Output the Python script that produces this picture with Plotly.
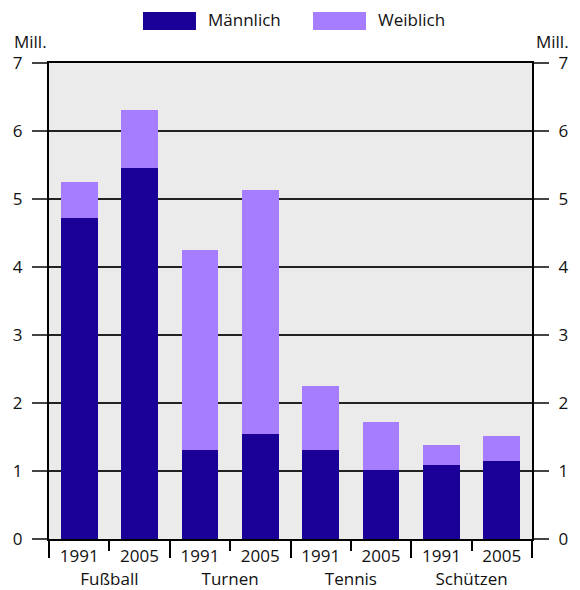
import plotly.graph_objects as go

sports = ["Fußball", "Turnen", "Tennis", "Schützen"]
years = ["1991", "2005"]
series_names = ["Männlich", "Weiblich"]
male = [4.72, 5.46, 1.31, 1.54, 1.31, 1.01, 1.09, 1.15]
female = [0.53, 0.85, 2.94, 3.59, 0.94, 0.71, 0.29, 0.36]
y_ticks = [0, 1, 2, 3, 4, 5, 6, 7]
unit_label = "Mill."

colors = ["#1b0097", "#a77dff"]
FONT = "Open Sans"
FS = 17

n = len(sports) * len(years)
xpos = list(range(n))
year_labels = [years[i % len(years)] for i in range(n)]
group_centers = [g * len(years) + (len(years) - 1) / 2 for g in range(len(sports))]
group_bounds = [g * len(years) - 0.5 for g in range(len(sports) + 1)]
inner_bounds = [g * len(years) + 0.5 for g in range(len(sports))]
xr = [-0.5, n - 0.5]

fig = go.Figure()
for name, vals, col in zip(series_names, [male, female], colors):
    fig.add_trace(go.Bar(x=xpos, y=vals, name=name, marker=dict(color=col, line=dict(width=0)),
                         width=0.61, showlegend=False, hoverinfo="skip"))
# empty helper traces so that the extra axes are drawn
for xa, ya in [("x3", "y"), ("x4", "y"), ("x", "y2")]:
    fig.add_trace(go.Scatter(x=[None], y=[None], xaxis=xa, yaxis=ya, showlegend=False,
                             hoverinfo="skip", mode="markers"))

fig.update_layout(
    width=580, height=590, autosize=False,
    margin=dict(l=49, r=48, t=63, b=51),
    barmode="stack",
    plot_bgcolor="#ebebeb", paper_bgcolor="white",
    font=dict(family=FONT, size=FS, color="#111"),
    xaxis=dict(range=xr, tickvals=xpos, ticktext=year_labels, ticks="", showgrid=False,
               zeroline=False, showline=True, mirror=True, linecolor="black", linewidth=2,
               ticklabelstandoff=1, fixedrange=True, automargin=False,
               minor=dict(tickvals=inner_bounds, ticks="outside", ticklen=10, tickwidth=1.5,
                          tickcolor="black", showgrid=False)),
    xaxis3=dict(overlaying="x", anchor="y", range=xr, tickvals=group_bounds, ticks="outside",
                ticklen=18, tickwidth=1.5, tickcolor="black", showticklabels=False,
                showgrid=False, zeroline=False, showline=False, fixedrange=True,
                automargin=False),
    xaxis4=dict(overlaying="x", anchor="y", range=xr, tickvals=group_centers, ticktext=sports,
                ticks="", showgrid=False, zeroline=False, showline=False,
                ticklabelstandoff=28, fixedrange=True, automargin=False),
    yaxis=dict(range=[0, 7], tickvals=y_ticks, ticks="outside", ticklen=15, tickwidth=2,
               tickcolor="#444", showgrid=True, gridcolor="#222", gridwidth=1.5,
               zeroline=False, showline=True, linecolor="black", linewidth=2,
               ticklabelstandoff=6, fixedrange=True, automargin=False),
    yaxis2=dict(overlaying="y", side="right", anchor="x", range=[0, 7], tickvals=y_ticks,
                ticks="outside", ticklen=15, tickwidth=2, tickcolor="#444", showgrid=False,
                zeroline=False, showline=True, linecolor="black", linewidth=2,
                ticklabelstandoff=6, fixedrange=True, automargin=False),
)

# unit labels
fig.add_annotation(text=unit_label, xref="paper", yref="paper", x=0, y=1, xanchor="right",
                   yanchor="bottom", yshift=8, showarrow=False, font=dict(size=FS))
fig.add_annotation(text=unit_label, xref="paper", yref="paper", x=1, y=1, xanchor="left",
                   yanchor="bottom", yshift=8, xshift=2, showarrow=False, font=dict(size=FS))

# legend (drawn)
leg_boxes = [(0.1946, 0.3043), (0.5466, 0.6563)]
for (x0, x1), name, col in zip(leg_boxes, series_names, colors):
    fig.add_shape(type="rect", xref="paper", yref="paper", x0=x0, x1=x1, y0=1.0693, y1=1.1071,
                  fillcolor=col, line=dict(width=0))
    fig.add_annotation(text=name, xref="paper", yref="paper", x=x1 + 0.02, y=1.092,
                       xanchor="left", yanchor="middle", showarrow=False, font=dict(size=FS))

fig.write_html("out.html", config={"displayModeBar": False},
               post_script="document.body.style.margin='0';")
